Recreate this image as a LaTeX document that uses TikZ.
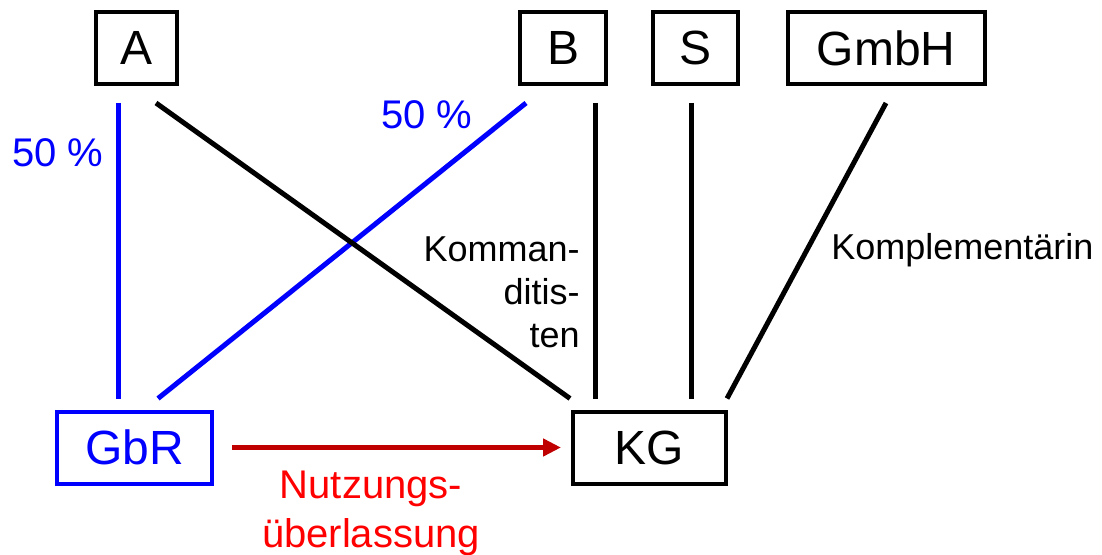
\documentclass[tikz,border=0pt]{standalone}
\usepackage{fontspec}
\setmainfont{Liberation Sans}
\usetikzlibrary{arrows.meta,calc}
\definecolor{sharecol}{RGB}{0,0,255}
\definecolor{usecol}{RGB}{192,0,0}
\definecolor{usetextcol}{RGB}{255,0,0}
\tikzset{
    >={Triangle[length=9pt,width=8.5pt]},
    party/.style={draw,line width=2pt,rectangle,minimum height=36pt,inner sep=0pt,font=\fontsize{24}{28}\selectfont},
    link/.style={line width=2.5pt},
    share/.append style={link,draw=sharecol},
    tag/.append style={inner sep=0pt,font=\fontsize{18}{21.5}\selectfont},
    sharetag/.append style={inner sep=0pt,text=sharecol,font=\fontsize{20}{24}\selectfont},
    usetag/.append style={inner sep=0pt,align=center,text=usetextcol,font=\fontsize{20}{24.5}\selectfont},
}
\begin{document}
\begin{tikzpicture}[x=0.5pt,y=-0.5pt]
\useasboundingbox (0,0) rectangle (1102,555);

           \node[party,minimum width=40.5pt] (A) at (136.5,48) {A};
           \node[party,minimum width=43pt] (B) at (563,48) {B};
           \node[party,minimum width=42.5pt] (S) at (695.5,48) {S};
           \node[party,minimum width=98.5pt] (GmbH) at (886,48) {GmbH};
           \node[party,minimum width=77.5pt,draw=sharecol,text=sharecol] (GbR) at (134.5,447.5) {GbR};
           \node[party,minimum width=76.5pt] (KG) at (649.5,447.5) {KG};

\draw[share] ($(A.south)+(-18.5,17)$) -- ($(GbR.north)+(-16.5,-11)$);
\draw[share] ($(B.south)+(-37,17)$) -- ($(GbR.north)+(23.5,-11)$);
\draw[link] ($(A.south)+(19.5,17)$) -- ($(KG.north)+(-79.5,-11)$);
\draw[link] ($(B.south)+(32,17)$) -- ($(KG.north)+(-54.5,-11)$);
\draw[link] ($(S.south)+(-4.5,17)$) -- ($(KG.north)+(41.5,-11)$);
\draw[link] ($(GmbH.south)+(0,17)$) -- ($(KG.north)+(77.5,-11)$);
\draw[link,usecol,->,shorten <=9pt,shorten >=5pt] (GbR) -- (KG);

           \node[sharetag,anchor=base west] (shareA) at (12,167) {50 \%};
           \node[sharetag,anchor=base west] (shareB) at (381,129) {50 \%};
           \node[tag,align=right,anchor=base east] (kommand) at (580,348) {Komman-\\ditis-\\ten};
           \node[tag,anchor=base west] (kompl) at (831,260) {Komplementärin};
           \node[usetag,anchor=base] (nutzung) at (371,547) {Nutzungs-\\überlassung};

       \end{tikzpicture}
\end{document}
